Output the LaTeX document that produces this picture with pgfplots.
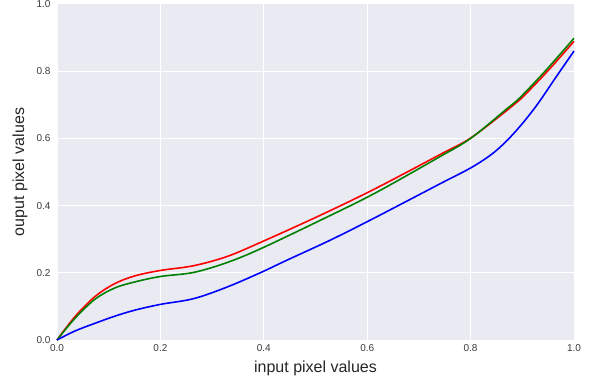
\documentclass[border=0pt]{standalone}
\usepackage{pgfplots}
\pgfplotsset{compat=1.18}
\usepackage{fontspec}
\setmainfont{Liberation Sans}
\definecolor{bgc}{HTML}{EAEAF2}
\definecolor{txt}{HTML}{262626}
\definecolor{tick}{HTML}{3A3A3A}
\definecolor{mgreen}{HTML}{008000}
\begin{document}
\begin{tikzpicture}
\useasboundingbox (-57bp,-41bp) rectangle (540bp,340bp);
\begin{axis}[
  at={(0,0)}, anchor=south west,
  scale only axis, width=517bp, height=336bp,
  xmin=0, xmax=1, ymin=0, ymax=1,
  axis background/.style={fill=bgc},
  axis line style={draw=none},
  major tick length=0pt,
  grid=major,
  major grid style={white, line width=1bp},
  xtick={0,0.2,0.4,0.6,0.8,1.0},
  ytick={0,0.2,0.4,0.6,0.8,1.0},
  /pgf/number format/fixed,
  /pgf/number format/fixed zerofill,
  /pgf/number format/precision=1,
  /pgf/number format/assume math mode=true,
  ticklabel style={font=\fontsize{10bp}{12bp}\selectfont, text=tick},
  xticklabel style={yshift=-1bp},
  yticklabel style={xshift=-3bp},
  xlabel={input pixel values},
  ylabel={ouput pixel values},
  label style={font=\fontsize{16bp}{19bp}\selectfont, text=txt},
  xlabel style={at={(axis description cs:0.5,-0.0833)}, anchor=center},
  ylabel style={at={(axis description cs:-0.0716,0.5)}, anchor=center},
  clip=false,
]
\addplot[red, line width=1.6pt, smooth, tension=0.55] coordinates {
(0,0) (0.035,0.070) (0.074,0.130) (0.112,0.168) (0.151,0.191) (0.2,0.207)
(0.264,0.221) (0.328,0.248) (0.393,0.290) (0.509,0.371) (0.615,0.450)
(0.741,0.552) (0.8,0.601) (0.870,0.683) (0.896,0.716) (0.947,0.797) (1.0,0.889)};
\addplot[mgreen, line width=1.6pt, smooth, tension=0.55] coordinates {
(0,0) (0.035,0.065) (0.074,0.122) (0.112,0.155) (0.151,0.173) (0.2,0.189)
(0.264,0.201) (0.328,0.230) (0.393,0.271) (0.509,0.356) (0.615,0.437)
(0.741,0.546) (0.8,0.600) (0.870,0.688) (0.896,0.722) (0.947,0.805) (1.0,0.898)};
\addplot[blue, line width=1.6pt, smooth, tension=0.55] coordinates {
(0,0) (0.035,0.027) (0.074,0.050) (0.112,0.071) (0.151,0.089) (0.2,0.106)
(0.264,0.123) (0.328,0.157) (0.393,0.200) (0.444,0.237) (0.531,0.299)
(0.615,0.364) (0.741,0.465) (0.8,0.512) (0.84,0.552) (0.87,0.593)
(0.9,0.644) (0.93,0.703) (0.965,0.782) (1.0,0.860)};
\end{axis}
\end{tikzpicture}
\end{document}
